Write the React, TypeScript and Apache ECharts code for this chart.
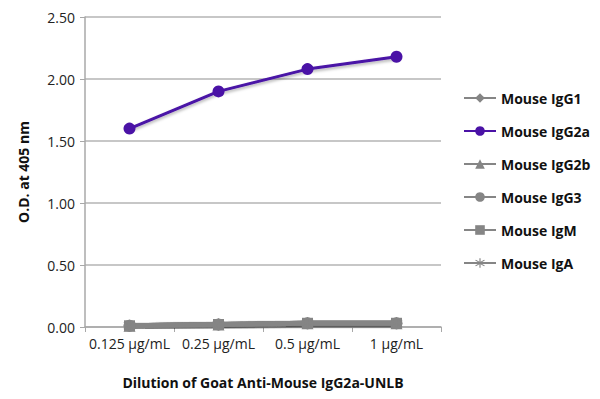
import React, { useEffect, useRef } from "react";
import * as echarts from "echarts";

const categories = ["0.125 µg/mL", "0.25 µg/mL", "0.5 µg/mL", "1 µg/mL"];
const igG1 = [0.01, 0.02, 0.03, 0.03];
const igG2a = [1.6, 1.9, 2.08, 2.18];
const igG2b = [0.01, 0.02, 0.03, 0.03];
const igG3 = [0.01, 0.02, 0.03, 0.03];
const igM = [0.01, 0.02, 0.03, 0.03];
const igA = [0.01, 0.02, 0.03, 0.03];
const yTicks = [0, 0.5, 1, 1.5, 2, 2.5];

const GRAY = "#858585";
const PURPLE = "#4a12a6";
const asterisk =
  "path://M9,0 L11,0 L11,7.6 L17.2,3.3 L18.3,5 L12,9.2 L12,10.8 L18.3,15 L17.2,16.7 L11,12.4 L11,20 L9,20 L9,12.4 L2.8,16.7 L1.7,15 L8,10.8 L8,9.2 L1.7,5 L2.8,3.3 L9,7.6 Z";

export default function App() {
  const ref = useRef<HTMLDivElement>(null);
  useEffect(() => {
    const chart = echarts.init(ref.current!, null, { renderer: "svg" });
    const font = "'Open Sans', 'Noto Sans', sans-serif";
    const graySeries = (name: string, data: number[], symbol: string, size: number) => ({
      name,
      type: "line",
      data,
      symbol,
      symbolSize: size,
      lineStyle: { color: GRAY, width: 5, shadowColor: "rgba(0,0,0,0.2)", shadowBlur: 2, shadowOffsetY: 1 },
      itemStyle: { color: GRAY },
      z: 2,
    });
    chart.setOption({
      animation: false,
      textStyle: { fontFamily: font },
      grid: { left: 85, right: 159, top: 17, bottom: 72 },
      legend: {
        orient: "vertical",
        left: 458,
        top: 86,
        itemGap: 19,
        itemWidth: 32,
        itemHeight: 12,
        textStyle: { fontFamily: font, fontWeight: "bold", fontSize: 14, color: "#111" },
        data: ["Mouse IgG1", "Mouse IgG2a", "Mouse IgG2b", "Mouse IgG3", "Mouse IgM", "Mouse IgA"],
      },
      xAxis: {
        type: "category",
        data: categories,
        boundaryGap: true,
        axisLine: { lineStyle: { color: "#a8a8a8", width: 1.5 } },
        axisTick: { show: true, length: 5, lineStyle: { color: "#a8a8a8" } },
        axisLabel: { color: "#222", fontSize: 14, margin: 9, interval: 0, fontFamily: font },
        name: "Dilution of Goat Anti-Mouse IgG2a-UNLB",
        nameLocation: "middle",
        nameGap: 48,
        nameTextStyle: { fontWeight: "bold", fontSize: 14, color: "#111", fontFamily: font },
      },
      yAxis: {
        type: "value",
        min: yTicks[0],
        max: yTicks[yTicks.length - 1],
        interval: 0.5,
        axisLine: { show: true, lineStyle: { color: "#a8a8a8", width: 1.5 } },
        axisTick: { show: true, length: 5, lineStyle: { color: "#a8a8a8" } },
        splitLine: { lineStyle: { color: "#b4b4b4", width: 1.5 } },
        axisLabel: { color: "#222", fontSize: 14, margin: 10, formatter: (v: number) => v.toFixed(2), fontFamily: font },
        name: "O.D. at 405 nm",
        nameLocation: "middle",
        nameGap: 55,
        nameTextStyle: { fontWeight: "bold", fontSize: 14, color: "#111", fontFamily: font },
      },
      series: [
        graySeries("Mouse IgG1", igG1, "diamond", 12),
        {
          name: "Mouse IgG2a",
          type: "line",
          data: igG2a,
          symbol: "circle",
          symbolSize: 12,
          lineStyle: { color: PURPLE, width: 3, shadowColor: "rgba(0,0,0,0.3)", shadowBlur: 3, shadowOffsetY: 2 },
          itemStyle: { color: PURPLE },
          z: 3,
        },
        graySeries("Mouse IgG2b", igG2b, "triangle", 12),
        graySeries("Mouse IgG3", igG3, "circle", 12),
        graySeries("Mouse IgM", igM, "rect", 11),
        graySeries("Mouse IgA", igA, asterisk, 12),
      ],
    });
    return () => chart.dispose();
  }, []);
  return <div ref={ref} style={{ width: 600, height: 399, margin: -8 }} />;
}
